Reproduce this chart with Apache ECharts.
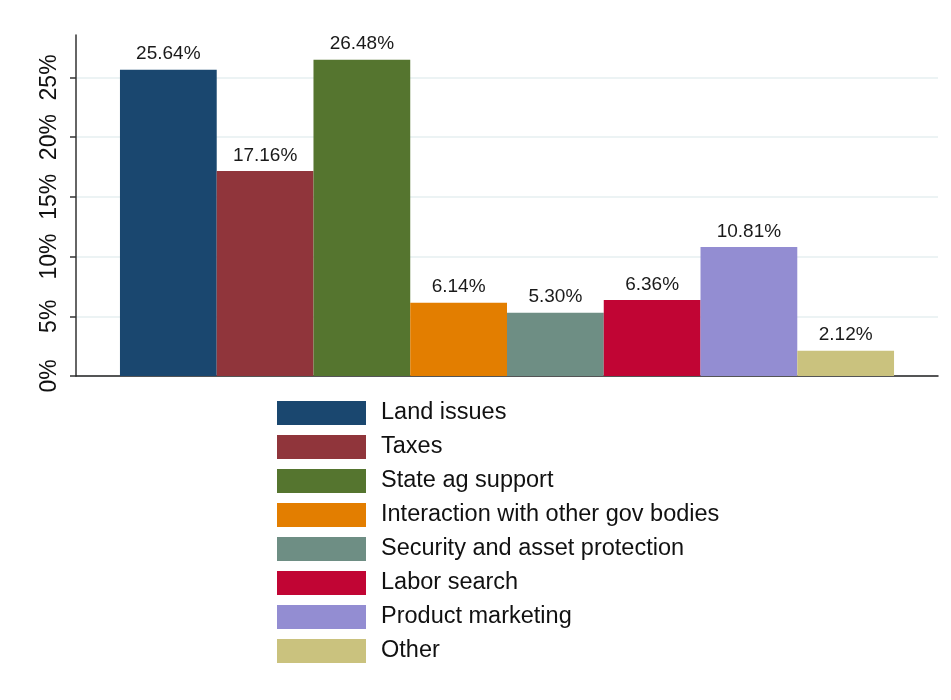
<!DOCTYPE html>
<html>
<head>
<meta charset="utf-8">
<script src="https://cdn.jsdelivr.net/npm/echarts@6/dist/echarts.min.js"></script>
<style>
  html, body { margin: 0; padding: 0; background: #ffffff; }
  #chart { width: 951px; height: 700px; }
</style>
</head>
<body>
<div id="chart"></div>
<script>
// Share of responses by problem area (%)
const categories = [
  'Land issues',
  'Taxes',
  'State ag support',
  'Interaction with other gov bodies',
  'Security and asset protection',
  'Labor search',
  'Product marketing',
  'Other'
];
const values = [25.64, 17.16, 26.48, 6.14, 5.30, 6.36, 10.81, 2.12];
const colors = ['#1a476f', '#90353b', '#55752f', '#e37e00', '#6e8e84', '#c10534', '#938dd2', '#cac27e'];
const yTicks = [0, 5, 10, 15, 20, 25];

const chart = echarts.init(document.getElementById('chart'), null, { renderer: 'canvas' });

const series = categories.map((name, i) => ({
  name: name,
  type: 'bar',
  data: [values[i]],
  barGap: '0%',
  barCategoryGap: '10.2%',
  itemStyle: { color: colors[i] },
  label: {
    show: true,
    position: 'top',
    distance: 6,
    formatter: p => p.value.toFixed(2) + '%',
    fontFamily: 'Arial, Liberation Sans, sans-serif',
    fontSize: 19,
    color: '#1a1a1a'
  }
}));

// grid lines at 0..25 in light blue-grey; the extent end (axis top) gets none
const gridColors = yTicks.map(() => '#e6eff1').concat(['rgba(0,0,0,0)']);

chart.setOption({
  backgroundColor: '#ffffff',
  animation: false,
  grid: { left: 76, right: 13, top: 35, bottom: 324, containLabel: false },
  legend: {
    orient: 'vertical',
    left: 277,
    top: 401,
    padding: 0,
    itemWidth: 89,
    itemHeight: 24,
    itemGap: 10,
    icon: 'rect',
    selectedMode: false,
    textStyle: {
      fontFamily: 'Arial, Liberation Sans, sans-serif',
      fontSize: 23.5,
      color: '#111111',
      padding: [0, 0, 0, 10]
    },
    data: categories
  },
  xAxis: {
    type: 'category',
    data: [''],
    axisLine: { lineStyle: { color: '#222222', width: 1.5 } },
    axisTick: { show: false },
    axisLabel: { show: false }
  },
  yAxis: {
    type: 'value',
    min: 0,
    max: 28.55,
    interval: 5,
    axisLine: { show: true, lineStyle: { color: '#333333', width: 1.5 } },
    axisTick: { show: true, length: 6, lineStyle: { color: '#333333', width: 1.5 } },
    axisLabel: {
      showMaxLabel: false,
      rotate: 90,
      margin: 15,
      fontFamily: 'Arial, Liberation Sans, sans-serif',
      fontSize: 23,
      color: '#111111',
      formatter: v => (yTicks.indexOf(v) >= 0 ? v + '%' : '')
    },
    splitLine: {
      show: true,
      lineStyle: { color: gridColors, width: 1.5 }
    }
  },
  series: series
});
</script>
</body>
</html>
